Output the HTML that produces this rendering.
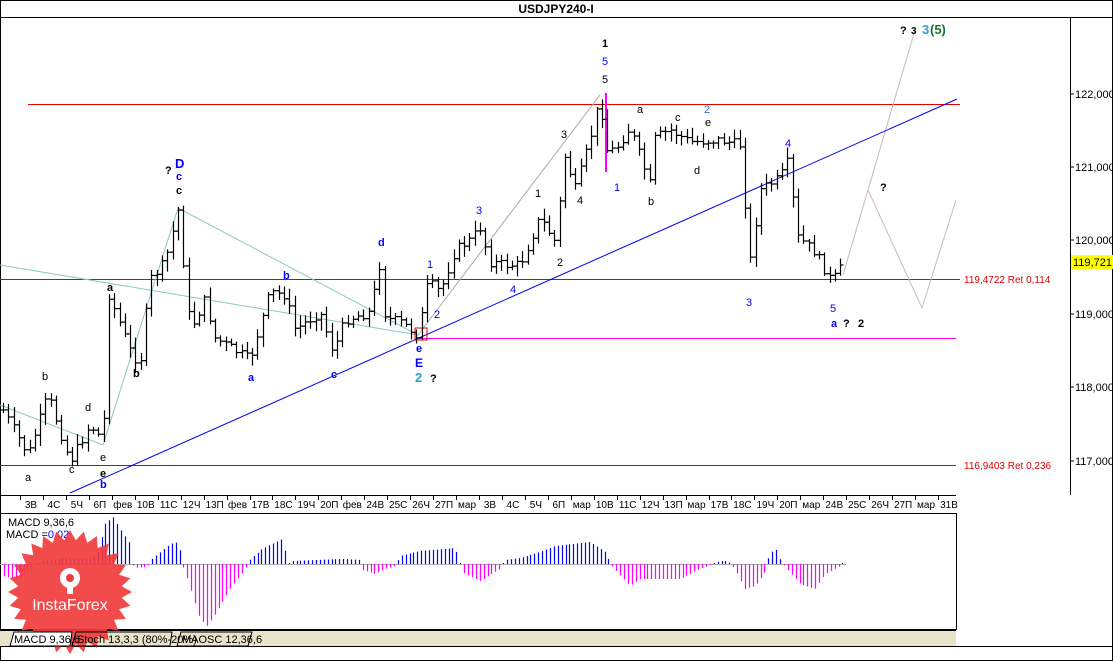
<!DOCTYPE html>
<html><head><meta charset="utf-8"><style>
body{margin:0;background:#fff;width:1113px;height:661px;overflow:hidden;font-family:"Liberation Sans","DejaVu Sans",sans-serif}
svg{display:block}
</style></head><body>
<svg id="s" width="1113" height="661" xmlns="http://www.w3.org/2000/svg" font-family="Liberation Sans, DejaVu Sans, sans-serif">
<rect x="0" y="0" width="1113" height="661" fill="#fff"/>
<rect x="0.5" y="0.5" width="1112" height="660" fill="none" stroke="#000"/>
<line x1="0" y1="17.5" x2="1113" y2="17.5" stroke="#000"/>
<text x="556" y="13" font-size="12" font-weight="bold" text-anchor="middle">USDJPY240-I</text>
<!-- chart frame -->
<line x1="1070.5" y1="17" x2="1070.5" y2="495" stroke="#000"/>
<line x1="0" y1="495.5" x2="956" y2="495.5" stroke="#000"/>
<line x1="0" y1="513.5" x2="956" y2="513.5" stroke="#000"/>
<line x1="956.5" y1="513" x2="956.5" y2="630" stroke="#000"/>
<line x1="0" y1="630" x2="956" y2="630" stroke="#000" stroke-width="2"/>
<rect x="0" y="631" width="956" height="15" fill="#e8e4cc"/>
<line x1="0" y1="646.5" x2="1113" y2="646.5" stroke="#000"/>
<!-- price axis -->
<g font-size="11" fill="#000">
<line x1="1070" y1="94" x2="1074" y2="94" stroke="#000"/><text x="1075" y="98">122,000</text>
<line x1="1070" y1="167" x2="1074" y2="167" stroke="#000"/><text x="1075" y="171">121,000</text>
<line x1="1070" y1="240" x2="1074" y2="240" stroke="#000"/><text x="1075" y="244">120,000</text>
<line x1="1070" y1="314" x2="1074" y2="314" stroke="#000"/><text x="1075" y="318">119,000</text>
<line x1="1070" y1="387" x2="1074" y2="387" stroke="#000"/><text x="1075" y="391">118,000</text>
<line x1="1070" y1="461" x2="1074" y2="461" stroke="#000"/><text x="1075" y="465">117,000</text>
<rect x="1071" y="255" width="42" height="14" fill="#ffff00"/><text x="1073" y="266">119,721</text>
</g>
<!-- horizontal lines -->
<line x1="28" y1="104.5" x2="960" y2="104.5" stroke="#e00000"/>
<line x1="0" y1="279.5" x2="960" y2="279.5" stroke="#e00000"/>
<line x1="0" y1="465.5" x2="956" y2="465.5" stroke="#e00000"/>
<line x1="418" y1="338.5" x2="956" y2="338.5" stroke="#ff00ff"/>
<text x="964" y="283" font-size="10" fill="#e00000">119,4722 Ret 0,114</text>
<text x="964" y="469" font-size="10" fill="#e00000">116,9403 Ret 0,236</text>
<!-- helper lines -->
<g stroke="#8cc7c7" fill="none">
<polyline points="0,405 103,445 178,208 418,335"/>
<line x1="0" y1="265" x2="418" y2="335"/>
</g>
<g stroke="#aaa" fill="none">
<line x1="418" y1="335" x2="600" y2="95"/>
</g>
<g stroke="#c8b8c8" fill="none">
<polyline points="843,275 915,30"/>
<polyline points="868,190 922,308 956,200"/>
</g>
<line x1="70" y1="493" x2="957" y2="99" stroke="#0000ee"/>
<line x1="606" y1="93" x2="606" y2="172" stroke="#ff00ff" stroke-width="2"/>
<rect x="415" y="328" width="12" height="12" fill="none" stroke="#e00000"/>
<g id="bars" stroke="#000" stroke-width="1.2"></g>
<!-- x axis -->
<g id="xax" font-size="10" fill="#000"></g>
<!-- MACD -->
<line x1="0" y1="564.5" x2="846" y2="564.5" stroke="#aaa"/>
<g id="macd" stroke-width="1.2"></g>
<text x="8" y="526" font-size="11">MACD 9,36,6</text>
<text x="6" y="538" font-size="11">MACD =<tspan fill="#0000ff">0,02</tspan></text>
<!-- stamp -->
<polygon id="star" fill="#f03c3c" opacity="0.92"/>
<text x="70" y="610" font-size="16" fill="#fff" text-anchor="middle">InstaForex</text>
<g fill="#fff"><circle cx="70" cy="578" r="10"/><circle cx="70" cy="578" r="4" fill="#f03c3c"/><rect x="67" y="582" width="6" height="12"/></g>
<!-- tabs -->
<g font-size="11">
<path d="M10,646 L14,632 L72,632 L70,646Z" fill="#fff" stroke="#000"/><text x="14" y="643">MACD 9,36,6</text>
<path d="M72,646 L76,632 L172,632 L170,646Z" fill="none" stroke="#000"/><text x="77" y="643">Stoch 13,3,3 (80%-20%)</text>
<path d="M177,646 L181,632 L252,632 L248,646Z" fill="none" stroke="#000"/><text x="182" y="643">MAOSC 12,36,6</text>
</g>
<!-- labels -->
<g font-size="11" font-weight="bold">
<text x="25" y="481" font-weight="normal">a</text>
<text x="42" y="380" font-weight="normal">b</text>
<text x="69" y="473" font-weight="normal">c</text>
<text x="85" y="411" font-weight="normal">d</text>
<text x="100" y="461" font-weight="normal">e</text>
<text x="100" y="477">e</text>
<text x="100" y="488" fill="#0000ff">b</text>
<text x="107" y="291">a</text>
<text x="133" y="377">b</text>
<text x="165" y="174">?</text>
<text x="175" y="168" fill="#0000ff" font-size="13">D</text>
<text x="176" y="180" fill="#0000ff">c</text>
<text x="176" y="194">c</text>
<text x="248" y="381" fill="#0000ff">a</text>
<text x="283" y="279" fill="#0000ff">b</text>
<text x="331" y="378" fill="#0000ff">c</text>
<text x="378" y="246" fill="#0000ff">d</text>
<text x="416" y="352" fill="#0000ff">e</text>
<text x="415" y="367" fill="#0000ff" font-size="12">E</text>
<text x="415" y="382" fill="#2aa0d0" font-size="13">2</text>
<text x="430" y="382">?</text>
<text x="427" y="268" fill="#0000ff" font-weight="normal">1</text>
<text x="434" y="318" fill="#0000ff" font-weight="normal">2</text>
<text x="476" y="214" fill="#0000ff" font-weight="normal">3</text>
<text x="510" y="293" fill="#0000ff" font-weight="normal">4</text>
<text x="535" y="197" font-weight="normal">1</text>
<text x="557" y="266" font-weight="normal">2</text>
<text x="561" y="138" font-weight="normal">3</text>
<text x="577" y="204" font-weight="normal">4</text>
<text x="602" y="47">1</text>
<text x="602" y="65" fill="#0000ff" font-weight="normal">5</text>
<text x="602" y="83" font-weight="normal">5</text>
<text x="614" y="191" fill="#0000ff" font-weight="normal">1</text>
<text x="637" y="113" font-weight="normal">a</text>
<text x="648" y="205" font-weight="normal">b</text>
<text x="675" y="121" font-weight="normal">c</text>
<text x="694" y="174" font-weight="normal">d</text>
<text x="705" y="126" font-weight="normal">e</text>
<text x="704" y="113" fill="#2a70d0" font-weight="normal">2</text>
<text x="746" y="306" fill="#0000ff" font-weight="normal">3</text>
<text x="785" y="147" fill="#0000ff" font-weight="normal">4</text>
<text x="830" y="312" fill="#0000ff" font-weight="normal">5</text>
<text x="831" y="327" fill="#0000ff">a</text>
<text x="843" y="327">?</text>
<text x="858" y="327">2</text>
<text x="880" y="191">?</text>
<text x="900" y="34">?</text>
<text x="911" y="34" font-size="10">3</text>
<text x="922" y="34" fill="#2aa0d0" font-size="13">3</text>
<text x="930" y="34" fill="#117733" font-size="13">(5)</text>
</g>
</svg>
<script>
var NS="http://www.w3.org/2000/svg";
function el(p,t,a){var e=document.createElementNS(NS,t);for(var k in a)e.setAttribute(k,a[k]);p.appendChild(e);return e;}
var seed=7;function rnd(){seed=(seed*9301+49297)%233280;return seed/233280;}
var kp=[[3,410],[28,455],[48,395],[70,462],[90,425],[103,440],[108,292],[130,350],[140,365],[150,280],[165,262],[178,210],[190,330],[205,300],[215,338],[250,360],[270,292],[285,295],[295,330],[320,312],[333,352],[345,320],[370,312],[380,262],[385,318],[400,322],[418,335],[428,282],[440,292],[455,250],[470,240],[480,228],[490,262],[505,265],[520,265],[540,218],[555,242],[565,155],[575,190],[590,140],[600,98],[606,150],[615,150],[630,128],[650,185],[655,138],[670,130],[690,142],[720,140],[740,145],[750,262],[760,190],[780,178],[790,158],[795,235],[815,252],[832,282],[845,262]];
function interp(x,arr){for(var i=0;i<arr.length-1;i++){if(x>=arr[i][0]&&x<=arr[i+1][0]){var t=(x-arr[i][0])/(arr[i+1][0]-arr[i][0]);return arr[i][1]+t*(arr[i+1][1]-arr[i][1]);}}return arr[arr.length-1][1];}
var g=document.getElementById("bars");var prev=410;
for(var x=3;x<=845;x+=5.3){var xi=Math.round(x)+0.5;var c=interp(x,kp)+(rnd()-0.5)*10;var o=prev;var h=Math.min(o,c)-2-rnd()*9;var l=Math.max(o,c)+2+rnd()*9;
el(g,"line",{x1:xi,y1:h,x2:xi,y2:l});el(g,"line",{x1:xi-3,y1:o,x2:xi,y2:o});el(g,"line",{x1:xi,y1:c,x2:xi+3,y2:c});prev=c;}
var labs=["3В","4С","5Ч","6П","фев","10В","11С","12Ч","13П","фев","17В","18С","19Ч","20П","фев","24В","25С","26Ч","27П","мар","3В","4С","5Ч","6П","мар","10В","11С","12Ч","13П","мар","17В","18С","19Ч","20П","мар","24В","25С","26Ч","27П","мар","31В"];
var xa=document.getElementById("xax");
for(var i=0;i<labs.length;i++){var cx=31+i*22.95;el(xa,"line",{x1:Math.round(cx-11)+0.5,y1:495,x2:Math.round(cx-11)+0.5,y2:500,stroke:"#000"});var t=el(xa,"text",{x:cx,y:508,"text-anchor":"middle"});t.textContent=labs[i];}
var mk=[[3,-12],[15,-15],[25,-12],[32,-4],[40,2],[60,6],[90,5],[97,10],[105,40],[113,47],[120,35],[130,20],[133,-4],[147,-3],[152,5],[170,20],[178,22],[182,0],[186,-10],[200,-55],[207,-62],[215,-50],[230,-25],[245,-5],[250,5],[262,15],[282,25],[288,0],[292,3],[340,5],[345,5],[360,4],[362,-6],[375,-10],[385,-5],[395,-2],[400,8],[420,13],[455,16],[460,2],[462,-8],[480,-17],[500,-5],[505,4],[520,6],[540,12],[555,18],[590,22],[605,12],[612,-2],[630,-22],[640,-15],[680,-15],[700,-5],[720,3],[728,3],[735,-5],[745,-25],[755,-22],[765,-8],[768,5],[775,17],[780,5],[785,-3],[800,-20],[815,-25],[825,-10],[840,-2],[845,3]];
var mg=document.getElementById("macd");
for(var x=4;x<=845;x+=3.9){var v=interp(x,mk);if(Math.abs(v)<1)v=v<0?-1:1;var xi=Math.round(x)+0.5;el(mg,"line",{x1:xi,y1:564,x2:xi,y2:564-v,stroke:v>0?"#0000ff":"#ff00ff"});}
var pts=[];var n=28;for(var i=0;i<2*n;i++){var r=i%2?52:62;var a=Math.PI*i/n;pts.push((70+r*Math.cos(a)).toFixed(1)+","+(592+r*Math.sin(a)).toFixed(1));}
document.getElementById("star").setAttribute("points",pts.join(" "));
</script>
</body></html>
